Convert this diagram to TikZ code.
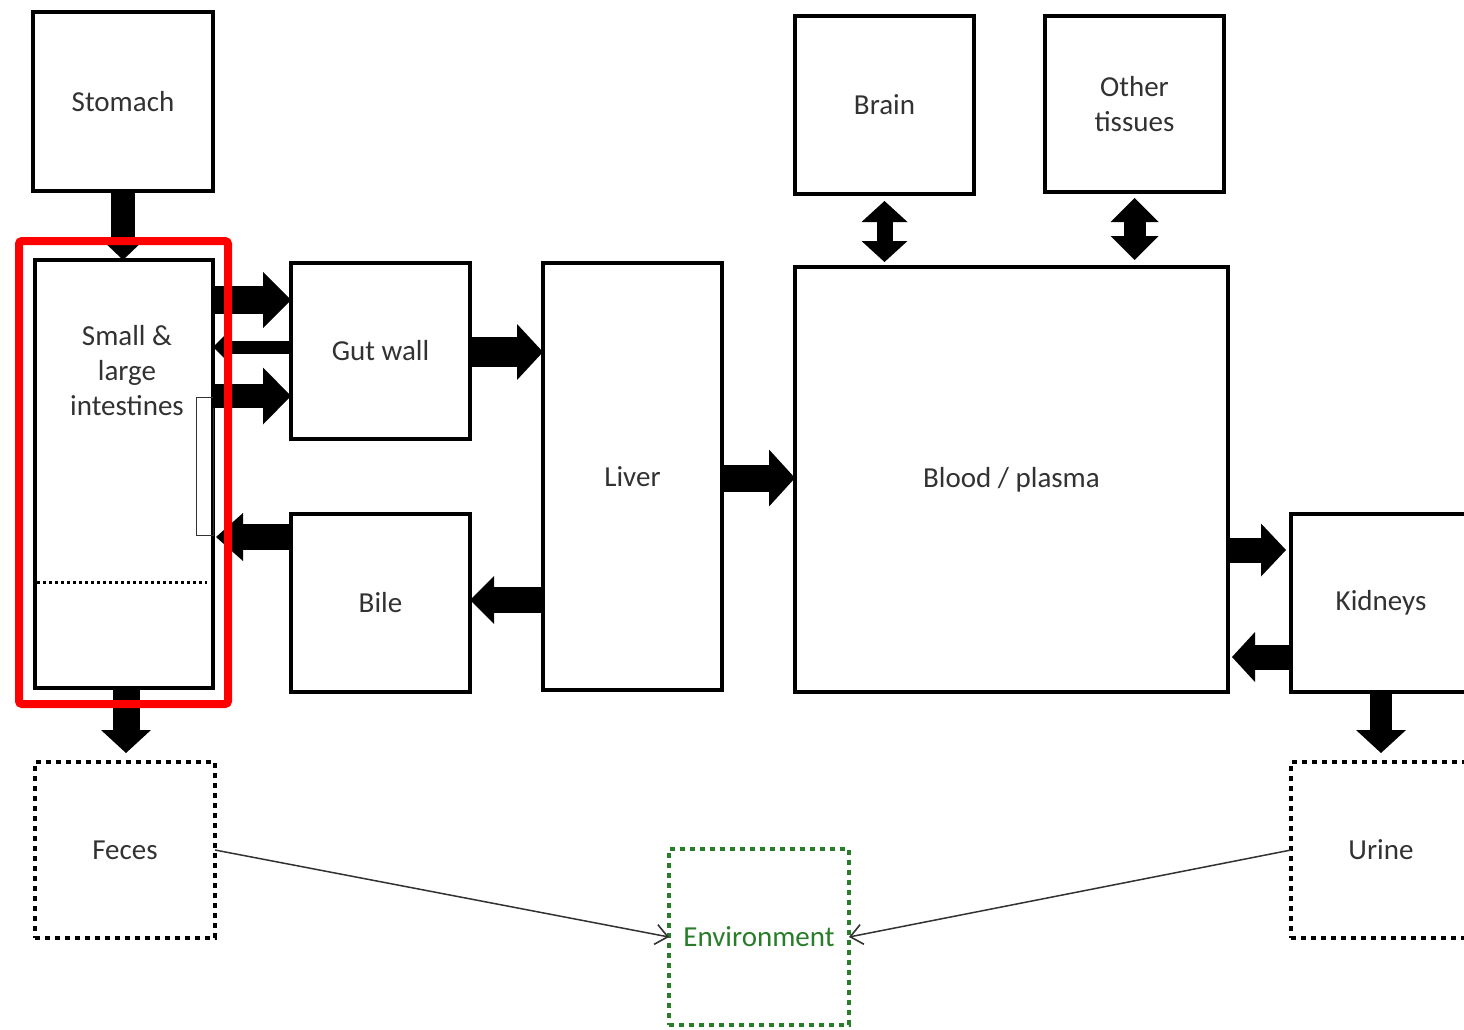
\documentclass[tikz,border=0pt]{standalone}
\usepackage{fontspec}
\setmainfont{Carlito}
\usetikzlibrary{arrows.meta}
\definecolor{txt}{RGB}{50,50,50}
\definecolor{envgreen}{RGB}{40,125,40}
\tikzset{
  box/.style={draw=black, line width=4pt, inner sep=0pt, outer sep=0pt, text=txt,
    font=\fontsize{29}{35}\selectfont, align=center},
  dotbox/.style={box, line width=4.5pt, dash pattern=on 5pt off 5pt},
  lbl/.style={text=txt, font=\fontsize{29}{35}\selectfont, align=center, inner sep=0pt},
  blk/.style n args={3}{draw=black, line width=#1,
    -{Triangle[width=#2, length=#3, line width=0pt]}},
  dblk/.style n args={3}{draw=black, line width=#1,
    {Triangle[width=#2, length=#3, line width=0pt]}-{Triangle[width=#2, length=#3, line width=0pt]}},
  thin/.style={draw=txt, line width=1.5pt,
    -{Straight Barb[length=12pt, width=20pt, line width=1.6pt]}}
}
\begin{document}
\begin{tikzpicture}[x=1pt,y=-1pt]
\useasboundingbox (0,0) rectangle (1464,1030);
\clip (0,0) rectangle (1464,1030);
% boxes
\node[box, minimum width=180pt, minimum height=179pt] (stomach) at (123,101.5) {Stomach};
\node[box, minimum width=178pt, minimum height=428pt] (int) at (124,474) {};
\node[lbl] (inttext) at (127,371) {Small \&\\large\\intestines};
\node[box, minimum width=179pt, minimum height=176pt] (gut) at (380.5,351) {Gut wall};
\node[box, minimum width=179pt, minimum height=178pt] (bile) at (380.5,603) {Bile};
\node[box, minimum width=179pt, minimum height=427pt] (liver) at (632.5,476.5) {Liver};
\node[box, minimum width=179pt, minimum height=178pt] (brain) at (884.5,105) {Brain};
\node[box, minimum width=179pt, minimum height=176pt] (other) at (1134.5,104) {Other\\tissues};
\node[box, minimum width=433pt, minimum height=425pt] (blood) at (1011.5,479.5) {Blood / plasma};
\node[box, minimum width=180pt, minimum height=178pt] (kid) at (1381,603) {Kidneys};
\node[dotbox, minimum width=180pt, minimum height=176pt] (feces) at (125,850) {Feces};
\node[dotbox, minimum width=180pt, minimum height=176pt] (urine) at (1381,850) {Urine};
\node[dotbox, draw=envgreen, text=envgreen, minimum width=180pt, minimum height=176pt] (env) at (759,937) {Environment};
% details inside intestines
\draw[line width=3pt, dash pattern=on 3pt off 3pt] (37,582) -- (207,582);
\draw[line width=1pt, draw=txt] (196,397) rectangle (213,535);
% block arrows
\draw[blk={24pt}{48pt}{23pt}] (stomach.south) -- (stomach.south |- int.north);
\draw[blk={28pt}{56pt}{28pt}] (int.east |- 0,300) -- (gut.west |- 0,300);
\draw[blk={13pt}{24pt}{12pt}] (gut.west |- 0,347) -- (int.east |- 0,347);
\draw[blk={24pt}{57pt}{28pt}] (int.east |- 0,396) -- (gut.west |- 0,396);
\draw[blk={30pt}{56pt}{26pt}] (gut.east |- 0,352) -- (liver.west |- 0,352);
\draw[blk={27pt}{57pt}{26pt}] (liver.east |- 0,478) -- (blood.west |- 0,478);
\draw[blk={26pt}{48pt}{24pt}] (liver.west |- 0,600) -- (bile.east |- 0,600);
\draw[blk={26pt}{48pt}{27pt}] (bile.west |- 0,537) -- ([xshift=3pt]int.east |- 0,537);
\draw[dblk={16pt}{46pt}{21pt}] ([yshift=-7pt]brain.south) -- ([yshift=5pt]brain.south |- blood.north);
\draw[dblk={22pt}{48pt}{24pt}] ([yshift=-6pt]other.south) -- ([yshift=7pt]other.south |- blood.north);
\draw[blk={25pt}{53pt}{25pt}] (blood.east |- 0,550) -- ([xshift=-5pt]kid.west |- 0,550);
\draw[blk={25pt}{50pt}{23pt}] (kid.west |- 0,657) -- ([xshift=4pt]blood.east |- 0,657);
\draw[blk={22pt}{50pt}{23pt}] (kid.south) -- ([yshift=9pt]urine.north);
\draw[blk={27pt}{50pt}{23pt}] ([xshift=2pt]int.south) -- ([xshift=2pt,yshift=9pt]int.south |- feces.north);
% thin arrows
\draw[thin] (feces.east) -- (env.west);
\draw[thin] (urine.west) -- (env.east);
% red highlight
\draw[red, line width=8pt, rounded corners=3pt] (19,241) rectangle (228,704);
\end{tikzpicture}
\end{document}
